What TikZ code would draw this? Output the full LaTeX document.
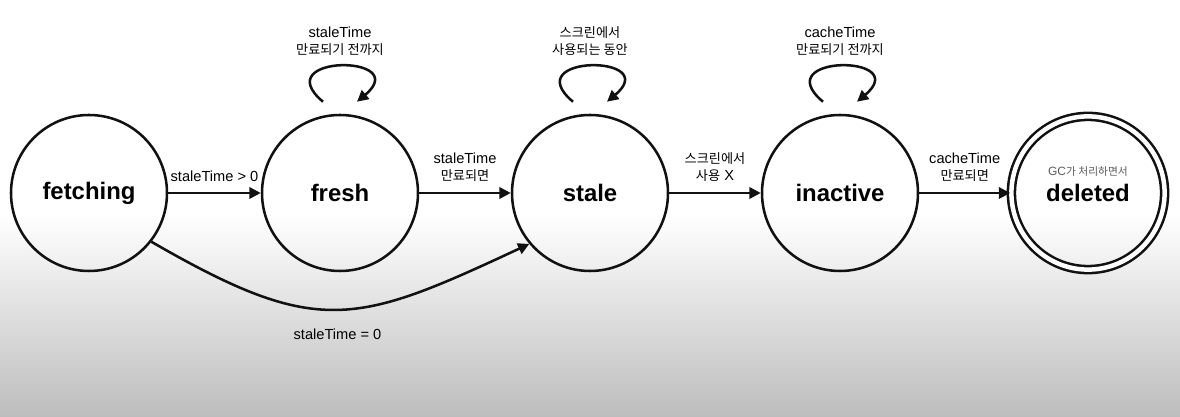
\documentclass[tikz,border=0pt]{standalone}
\usepackage{fontspec}
\setmainfont{Liberation Sans}
\newfontfamily\kr[Scale=0.9]{Noto Sans CJK KR}
\usetikzlibrary{arrows.meta}
\definecolor{cVien}{HTML}{111111}
\definecolor{cChuXam}{HTML}{5A5A5A}
\definecolor{cNenDuoi}{HTML}{BDBDBD}
\def\Lfetching{fetching}
\def\Lfresh{fresh}
\def\Lstale{stale}
\def\Linactive{inactive}
\def\Ldeleted{deleted}
\def\Lgc{GC{\kr 가 처리하면서}}
\def\Lfreshloop{staleTime\\{\kr 만료되기 전까지}}
\def\Lstaleloop{{\kr 스크린에서}\\{\kr 사용되는 동안}}
\def\Linactiveloop{cacheTime\\{\kr 만료되기 전까지}}
\def\Lpositive{staleTime > 0}
\def\Lzero{staleTime = 0}
\def\Lfreshstale{staleTime\\{\kr 만료되면}}
\def\Lstaleinactive{{\kr 스크린에서}\\{\kr 사용} X}
\def\Linactivedeleted{cacheTime\\{\kr 만료되면}}

\begin{document}
\begin{tikzpicture}[
  trangthai/.style={
    draw=cVien, line width=1.8pt, circle, inner sep=0pt, minimum size=3.9cm,
    font=\fontsize{17}{20}\selectfont\bfseries
  },
  muiten/.style={
    draw=cVien, line width=1.8pt, -{Triangle[length=8pt,width=8pt]}
  },
  nhan/.style={
    align=center, inner sep=1pt, font=\fontsize{10.4}{12.1}\selectfont
  }
]

% ── Nen: trang o tren, xam dan o duoi ──
\useasboundingbox (0,0) rectangle (29.5,10.425);
\fill[white] (0,0) rectangle (29.5,10.425);
\shade[top color=white, bottom color=cNenDuoi] (0,0) rectangle (29.5,5.05);

% ── Nam trang thai ──
\node[trangthai] (fetching) at (2.225,5.6) {\Lfetching};
\node[trangthai] (fresh)    at (8.5,5.6)   {\Lfresh};
\node[trangthai] (stale)    at (14.75,5.6) {\Lstale};
\node[trangthai] (inactive) at (21.0,5.6)  {\Linactive};
\node[trangthai, double, double distance=3.2pt, minimum size=3.83cm] (deleted) at (27.2,5.6) {\Ldeleted};
\node[font=\fontsize{8.5}{10}\selectfont, text=cChuXam, inner sep=0pt] (gcnhan) at (27.2,6.13) {\Lgc};

% ── Mui ten giua cac trang thai ──
\draw[muiten] (fetching) -- node[nhan, midway, above=6pt] {\Lpositive} (fresh);
\draw[muiten] (fresh) -- node[nhan, midway, above=6pt] {\Lfreshstale} (stale);
\draw[muiten] (stale) -- node[nhan, midway, above=6pt] {\Lstaleinactive} (inactive);
\draw[muiten] (inactive) -- node[nhan, midway, above=6pt] {\Linactivedeleted} (deleted);

% Cung duoi: fetching thang sang stale
\draw[muiten] (fetching.-38) to[out=-30, in=205, looseness=1.3]
  node[nhan, midway, below=0.42cm] {\Lzero} (stale.220);

% ── Vong lap tren dau ba trang thai ──
\coordinate (freshA)    at ([shift={(-0.425,0.3)}]fresh.north);
\coordinate (freshB)    at ([shift={(0.425,0.3)}]fresh.north);
\coordinate (staleA)    at ([shift={(-0.425,0.3)}]stale.north);
\coordinate (staleB)    at ([shift={(0.425,0.3)}]stale.north);
\coordinate (inactiveA) at ([shift={(-0.425,0.3)}]inactive.north);
\coordinate (inactiveB) at ([shift={(0.425,0.3)}]inactive.north);

\draw[muiten] (freshA) to[out=140, in=40, distance=1.85cm] (freshB);
\draw[muiten] (staleA) to[out=140, in=40, distance=1.85cm] (staleB);
\draw[muiten] (inactiveA) to[out=140, in=40, distance=1.85cm] (inactiveB);

\node[nhan] (freshloopnhan)    at (8.5,9.4)   {\Lfreshloop};
\node[nhan] (staleloopnhan)    at (14.75,9.4) {\Lstaleloop};
\node[nhan] (inactiveloopnhan) at (21.0,9.4)  {\Linactiveloop};

\end{tikzpicture}
\end{document}
